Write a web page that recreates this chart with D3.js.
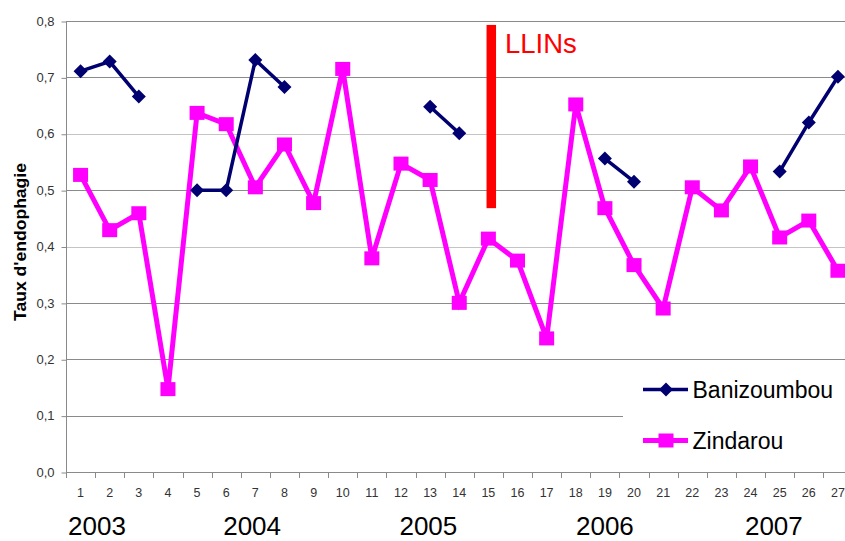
<!DOCTYPE html>
<html><head><meta charset="utf-8">
<script src="https://cdn.jsdelivr.net/npm/d3@7/dist/d3.min.js"></script>
<style>body{margin:0;background:#fff;}svg{display:block;font-family:"Liberation Sans",Arial,sans-serif;}</style>
</head><body><div id="chart"></div>
<script>
const categories = d3.range(1, 28);
const banizoumbou = [0.711,0.728,0.666,null,0.500,0.500,0.731,0.683,null,null,null,null,0.648,0.601,null,null,null,null,0.556,0.515,null,null,null,null,0.533,0.620,0.701];
const zindarou = [0.527,0.429,0.459,0.147,0.637,0.617,0.505,0.581,0.477,0.715,0.379,0.547,0.518,0.300,0.414,0.375,0.237,0.652,0.468,0.367,0.290,0.505,0.464,0.542,0.416,0.446,0.357];
const yTicks = [0,0.1,0.2,0.3,0.4,0.5,0.6,0.7,0.8];
const years = ["2003","2004","2005","2006","2007"];
const yearCat = [1.565,6.89,12.94,19.0,24.8];
const llinsCat = 15.1, llinsRange = [0.468, 0.793];
const seriesNames = ["Banizoumbou","Zindarou"];

const W = 845, H = 541;
const L = 66, R = 852.5, T = 21, B = 472;
const svg = d3.select("#chart").append("svg").attr("width", W).attr("height", H);

const x = d3.scaleBand().domain(categories).range([L, R]).padding(0);
const xc = d3.scaleLinear().domain([0.5, 27.5]).range([L, R]);
const y = d3.scaleLinear().domain([0, 0.8]).range([B, T]);

// gridlines
svg.append("g").selectAll("line").data(yTicks.slice(1)).join("line")
  .attr("x1", L).attr("x2", W)
  .attr("y1", d => Math.round(y(d)) + 0.5).attr("y2", d => Math.round(y(d)) + 0.5)
  .attr("stroke", (d, i) => (i === 3 || i === 5) ? "#c4c4c4" : "#8a8a8a").attr("stroke-width", 1);

// y axis
const yAxis = d3.axisLeft(y).tickValues(yTicks).tickSize(5).tickPadding(7)
  .tickFormat(d => d3.format(".1f")(d).replace(".", ","));
const ga = svg.append("g").attr("transform", `translate(${L + 0.5},0)`).call(yAxis);
ga.select(".domain").attr("stroke", "#8a8a8a").attr("d", `M0,${T}V${B}`);
ga.selectAll(".tick line").attr("stroke", "#8a8a8a").attr("transform", "translate(0,0.5)");
ga.selectAll(".tick text").attr("fill", "#333").style("font-size", "13px").style("font-family", "'Liberation Sans',Arial,sans-serif");

// x axis
const gx = svg.append("g");
gx.append("line").attr("x1", L).attr("x2", W).attr("y1", B + 0.5).attr("y2", B + 0.5).attr("stroke", "#8a8a8a");
gx.selectAll("line.tk").data(categories).join("line").attr("class", "tk")
  .attr("x1", d => Math.round(x(d)) + 0.5).attr("x2", d => Math.round(x(d)) + 0.5)
  .attr("y1", B).attr("y2", B + 6).attr("stroke", "#8a8a8a");
gx.selectAll("text").data(categories).join("text")
  .attr("x", d => x(d) + x.bandwidth() / 2).attr("y", B + 25)
  .attr("text-anchor", "middle").attr("fill", "#333").style("font-size", "12.5px").text(d => d);

// year labels
svg.append("g").selectAll("text").data(years).join("text")
  .attr("x", (d, i) => xc(yearCat[i])).attr("y", 535)
  .attr("text-anchor", "middle").attr("fill", "#000").style("font-size", "26px").text(d => d);

// y title
svg.append("text").attr("transform", "translate(26,242) rotate(-90)")
  .attr("text-anchor", "middle").style("font-size", "16px").style("font-weight", "bold")
  .attr("textLength", 158).attr("lengthAdjust", "spacingAndGlyphs").text("Taux d'endophagie");

// legend background box
svg.append("rect").attr("x", 623).attr("y", 364).attr("width", 230).attr("height", 104).attr("fill", "#fff");

const cx = d => x(d) + x.bandwidth() / 2;
const navy = "#000070", mag = "#ff00ff";

// Zindarou
svg.append("path").datum(zindarou)
  .attr("d", d3.line().x((d, i) => cx(categories[i])).y(d => y(d)))
  .attr("fill", "none").attr("stroke", mag).attr("stroke-width", 5).attr("stroke-linejoin", "miter");
svg.append("g").selectAll("rect").data(zindarou).join("rect")
  .attr("x", (d, i) => cx(categories[i]) - 7.5).attr("y", d => y(d) - 7)
  .attr("width", 15).attr("height", 14).attr("fill", mag);

// Banizoumbou
svg.append("path").datum(banizoumbou)
  .attr("d", d3.line().defined(d => d !== null).x((d, i) => cx(categories[i])).y(d => y(d)))
  .attr("fill", "none").attr("stroke", navy).attr("stroke-width", 3.5);
const diamond = "M0,-7L7,0L0,7L-7,0Z";
svg.append("g").selectAll("path").data(banizoumbou.map((v, i) => [categories[i], v]).filter(d => d[1] !== null)).join("path")
  .attr("d", diamond).attr("transform", d => `translate(${cx(d[0])},${y(d[1])})`).attr("fill", navy);

// LLINs
svg.append("rect").attr("x", xc(llinsCat) - 4.75).attr("y", y(llinsRange[1]))
  .attr("width", 9.5).attr("height", y(llinsRange[0]) - y(llinsRange[1])).attr("fill", "#ff0000");
svg.append("text").attr("x", 505).attr("y", 53).attr("fill", "#ff0000").style("font-size", "27.5px").text("LLINs");

// legend
const lg = svg.append("g");
const lgY = [389.5, 440.5];
lg.append("line").attr("x1", 643).attr("x2", 688).attr("y1", lgY[0]).attr("y2", lgY[0]).attr("stroke", navy).attr("stroke-width", 3.5);
lg.append("path").attr("d", diamond).attr("transform", `translate(666,${lgY[0]})`).attr("fill", navy);
lg.append("line").attr("x1", 643).attr("x2", 688).attr("y1", lgY[1]).attr("y2", lgY[1]).attr("stroke", mag).attr("stroke-width", 5);
lg.append("rect").attr("x", 658.5).attr("y", lgY[1] - 7).attr("width", 15).attr("height", 14).attr("fill", mag);
lg.selectAll("text").data(seriesNames).join("text")
  .attr("x", 692.5).attr("y", (d, i) => lgY[i] + 8.5).attr("fill", "#000").style("font-size", "23px").text(d => d);
</script></body></html>
